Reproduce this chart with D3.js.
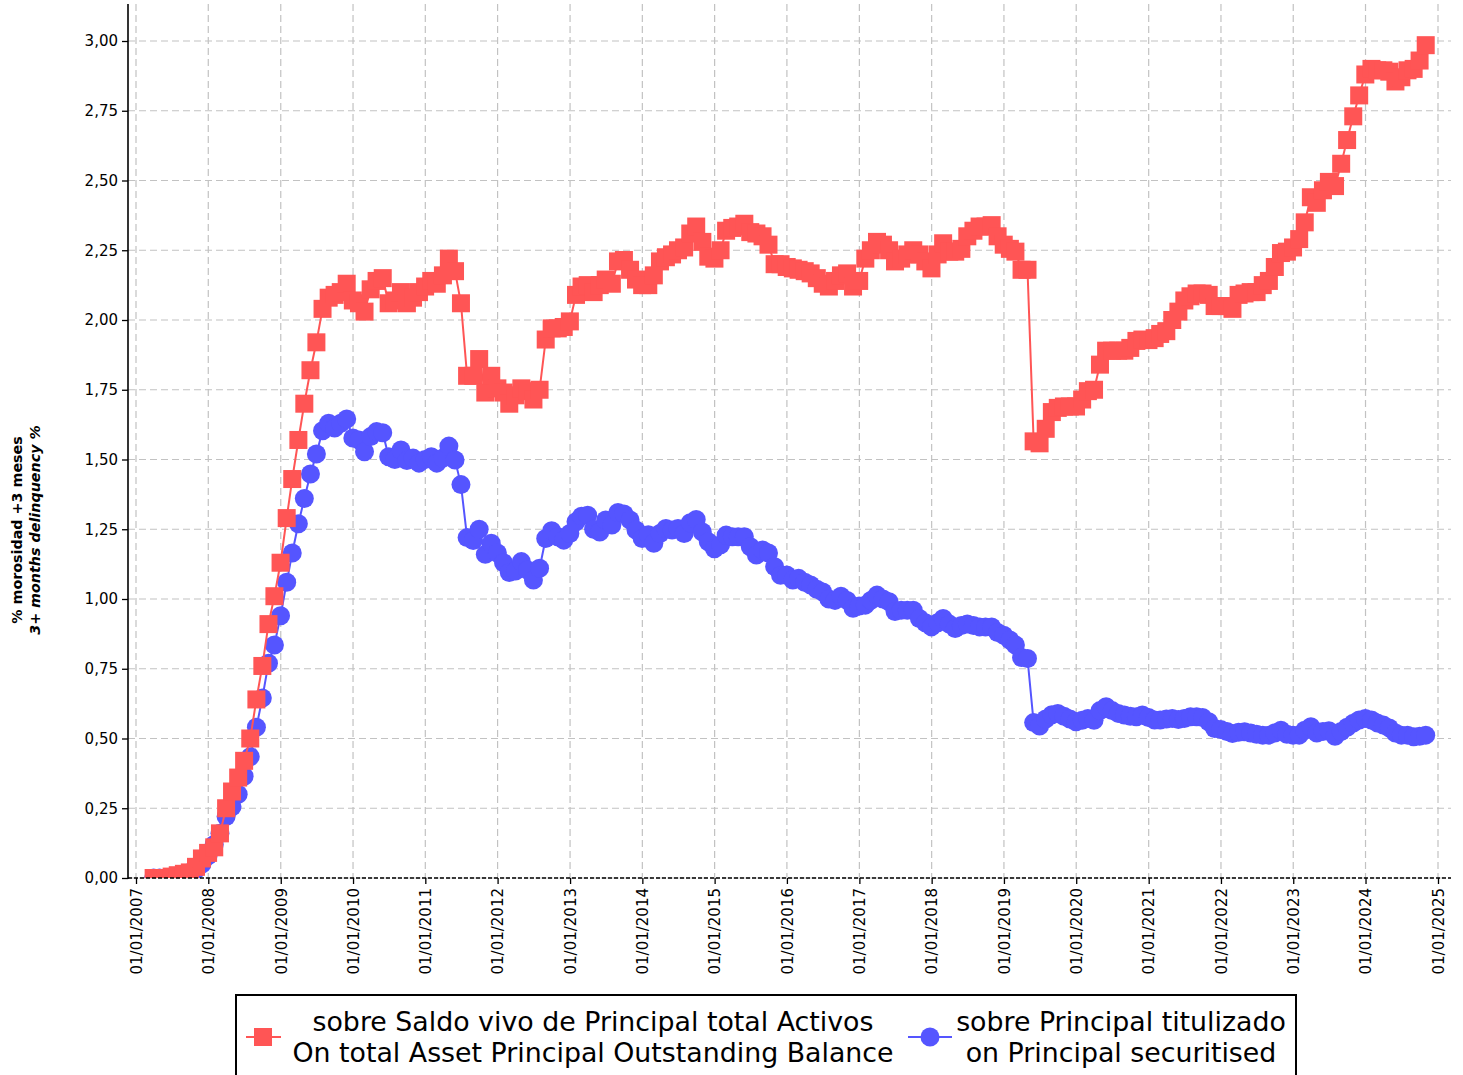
<!DOCTYPE html>
<html>
<head>
<meta charset="utf-8">
<script src="https://cdn.jsdelivr.net/npm/d3@7"></script>
<style>
  body { margin: 0; background: #fff; }
  svg { display: block; font-family: "DejaVu Sans", sans-serif; }
</style>
</head>
<body>
<svg id="chart" width="1463" height="1075"></svg>
<script>
// ---- DATA (monthly, month-end, from March 2007 to October 2024) ----
const startYear = 2007, startMonth = 3; // first observation: March 2007
const seriesNames = [
  ["sobre Saldo vivo de Principal total Activos", "On total Asset Principal Outstanding Balance"],
  ["sobre Principal titulizado", "on Principal securitised"]
];
const redValues = [
  // 2007 (Mar-Dec)
  0.00, 0.00, 0.00, 0.005, 0.01, 0.015, 0.02, 0.04, 0.07, 0.09,
  // 2008
  0.11, 0.16, 0.25, 0.31, 0.36, 0.42, 0.50, 0.64, 0.76, 0.91, 1.01, 1.13,
  // 2009
  1.29, 1.43, 1.57, 1.70, 1.82, 1.92, 2.04, 2.08, 2.09, 2.10, 2.13, 2.07,
  // 2010
  2.06, 2.03, 2.11, 2.14, 2.15, 2.06, 2.07, 2.10, 2.06, 2.08, 2.10, 2.12,
  // 2011
  2.14, 2.13, 2.16, 2.22, 2.175, 2.06, 1.80, 1.80, 1.86, 1.74, 1.80, 1.755,
  // 2012
  1.74, 1.70, 1.73, 1.755, 1.745, 1.715, 1.75, 1.93, 1.97, 1.97, 1.975, 1.995,
  // 2013
  2.09, 2.12, 2.125, 2.10, 2.125, 2.145, 2.13, 2.21, 2.215, 2.18, 2.145, 2.125,
  // 2014
  2.125, 2.16, 2.21, 2.225, 2.235, 2.25, 2.26, 2.31, 2.335, 2.28, 2.227, 2.22,
  // 2015
  2.25, 2.32, 2.33, 2.335, 2.345, 2.315, 2.31, 2.30, 2.27, 2.20, 2.20, 2.19,
  // 2016
  2.185, 2.18, 2.175, 2.167, 2.15, 2.13, 2.12, 2.14, 2.16, 2.167, 2.12, 2.14,
  // 2017
  2.22, 2.25, 2.28, 2.27, 2.25, 2.21, 2.22, 2.235, 2.25, 2.235, 2.21, 2.185,
  // 2018
  2.235, 2.275, 2.245, 2.245, 2.255, 2.30, 2.32, 2.335, 2.335, 2.34, 2.30, 2.27,
  // 2019
  2.255, 2.245, 2.18, 2.18, 1.565, 1.558, 1.61, 1.67, 1.685, 1.69, 1.69, 1.69,
  // 2020
  1.715, 1.745, 1.75, 1.84, 1.89, 1.89, 1.89, 1.89, 1.90, 1.925, 1.93, 1.928,
  // 2021
  1.935, 1.95, 1.96, 2.00, 2.03, 2.07, 2.085, 2.095, 2.095, 2.09, 2.05, 2.05,
  // 2022
  2.05, 2.04, 2.09, 2.095, 2.10, 2.10, 2.125, 2.14, 2.19, 2.24, 2.245, 2.26,
  // 2023
  2.29, 2.35, 2.44, 2.42, 2.465, 2.495, 2.48, 2.56, 2.645, 2.73, 2.805, 2.88,
  // 2024 (Jan-Oct)
  2.90, 2.895, 2.895, 2.89, 2.855, 2.87, 2.895, 2.90, 2.93, 2.985
];
const blueValues = [
  // 2007 (Mar-Dec)
  0.00, 0.00, 0.00, 0.00, 0.005, 0.01, 0.02, 0.03, 0.05, 0.08,
  // 2008
  0.12, 0.16, 0.22, 0.255, 0.30, 0.365, 0.435, 0.54, 0.645, 0.77, 0.835, 0.94,
  // 2009
  1.06, 1.165, 1.27, 1.36, 1.448, 1.52, 1.603, 1.63, 1.613, 1.63, 1.645, 1.577,
  // 2010
  1.57, 1.528, 1.582, 1.60, 1.596, 1.51, 1.50, 1.534, 1.496, 1.505, 1.487, 1.50,
  // 2011
  1.51, 1.487, 1.505, 1.548, 1.498, 1.41, 1.22, 1.21, 1.25, 1.16, 1.20, 1.165,
  // 2012
  1.13, 1.095, 1.10, 1.134, 1.104, 1.068, 1.11, 1.217, 1.245, 1.223, 1.211, 1.235,
  // 2013
  1.277, 1.297, 1.30, 1.25, 1.24, 1.283, 1.265, 1.31, 1.305, 1.283, 1.247, 1.217,
  // 2014
  1.23, 1.20, 1.235, 1.253, 1.247, 1.253, 1.235, 1.273, 1.285, 1.24, 1.205, 1.18,
  // 2015
  1.194, 1.229, 1.223, 1.223, 1.223, 1.187, 1.158, 1.176, 1.165, 1.116, 1.085, 1.086,
  // 2016
  1.068, 1.074, 1.06, 1.05, 1.035, 1.025, 1.00, 0.995, 1.01, 0.995, 0.967, 0.975,
  // 2017
  0.978, 0.995, 1.014, 1.00, 0.99, 0.955, 0.96, 0.96, 0.96, 0.93, 0.915, 0.90,
  // 2018
  0.915, 0.93, 0.91, 0.894, 0.905, 0.91, 0.905, 0.90, 0.90, 0.90, 0.88, 0.87,
  // 2019
  0.853, 0.835, 0.79, 0.787, 0.557, 0.545, 0.57, 0.585, 0.59, 0.58, 0.57, 0.56,
  // 2020
  0.565, 0.572, 0.565, 0.60, 0.614, 0.60, 0.59, 0.584, 0.58, 0.578, 0.584, 0.575,
  // 2021
  0.566, 0.566, 0.57, 0.572, 0.568, 0.572, 0.578, 0.578, 0.575, 0.56, 0.536, 0.532,
  // 2022
  0.525, 0.518, 0.522, 0.524, 0.52, 0.515, 0.512, 0.512, 0.52, 0.53, 0.515, 0.512,
  // 2023
  0.512, 0.53, 0.542, 0.52, 0.525, 0.528, 0.508, 0.525, 0.54, 0.555, 0.566, 0.572,
  // 2024 (Jan-Oct)
  0.566, 0.556, 0.548, 0.538, 0.52, 0.512, 0.512, 0.506, 0.508, 0.512
];
const yTicks = [0, 0.25, 0.5, 0.75, 1.0, 1.25, 1.5, 1.75, 2.0, 2.25, 2.5, 2.75, 3.0];
const xTickYears = d3.range(2007, 2026);
const yLabelLines = ["% morosidad +3 meses", "3+ months delinquency %"];

// ---- LAYOUT ----
const svg = d3.select("#chart");
const plot = { left: 128, right: 1451, top: 4, bottom: 878 };
const x = d3.scaleTime()
  .domain([new Date(2007, 0, 1), new Date(2025, 0, 1)])
  .range([136, 1438]);
const y = d3.scaleLinear().domain([0, 3]).range([878, 41]);

// month-end dates for each observation
const dates = redValues.map((_, i) => new Date(startYear, startMonth + i, 0));
const redData = redValues.map((v, i) => ({ d: dates[i], v }));
const blueData = blueValues.map((v, i) => ({ d: dates[i], v }));

const gridColor = "#c2c2c2";

// grid
const grid = svg.append("g");
grid.selectAll("line.h").data(yTicks).enter().append("line")
  .attr("x1", plot.left).attr("x2", plot.right)
  .attr("y1", d => y(d)).attr("y2", d => y(d))
  .attr("stroke", gridColor).attr("stroke-width", 1.2).attr("stroke-dasharray", "7,4");
grid.selectAll("line.v").data(xTickYears).enter().append("line")
  .attr("x1", d => x(new Date(d, 0, 1))).attr("x2", d => x(new Date(d, 0, 1)))
  .attr("y1", plot.top).attr("y2", plot.bottom)
  .attr("stroke", gridColor).attr("stroke-width", 1.2).attr("stroke-dasharray", "7,4");

// clip
svg.append("defs").append("clipPath").attr("id", "clip")
  .append("rect").attr("x", plot.left).attr("y", plot.top)
  .attr("width", plot.right - plot.left).attr("height", plot.bottom - plot.top);

const red = "#ff5555", blue = "#5555ff";
const series = svg.append("g").attr("clip-path", "url(#clip)");
const line = d3.line().x(d => x(d.d)).y(d => y(d.v));

// blue series
series.append("path").datum(blueData).attr("d", line)
  .attr("fill", "none").attr("stroke", blue).attr("stroke-width", 2);
series.selectAll("circle.b").data(blueData).enter().append("circle")
  .attr("cx", d => x(d.d)).attr("cy", d => y(d.v)).attr("r", 9.5).attr("fill", blue);

// red series
const sq = 18;
series.append("path").datum(redData).attr("d", line)
  .attr("fill", "none").attr("stroke", red).attr("stroke-width", 2);
series.selectAll("rect.r").data(redData).enter().append("rect")
  .attr("x", d => x(d.d) - sq / 2).attr("y", d => y(d.v) - sq / 2)
  .attr("width", sq).attr("height", sq).attr("fill", red);

// y axis
const yAxis = d3.axisLeft(y).tickValues(yTicks).tickSize(6).tickPadding(4)
  .tickFormat(d => d3.format(".2f")(d).replace(".", ","));
const gy = svg.append("g").attr("transform", `translate(${plot.left},0)`).call(yAxis);
gy.select(".domain").remove();
gy.selectAll("text").attr("font-size", 15).attr("fill", "#000").attr("font-family", "DejaVu Sans");
gy.selectAll("line").attr("stroke", "#000").attr("stroke-width", 1.3);
svg.append("line").attr("x1", plot.left).attr("x2", plot.left)
  .attr("y1", plot.top).attr("y2", plot.bottom + 1)
  .attr("stroke", "#000").attr("stroke-width", 1.6);

// x axis
const xAxis = d3.axisBottom(x).tickValues(xTickYears.map(yr => new Date(yr, 0, 1)))
  .tickSize(6).tickFormat(d3.timeFormat("%d/%m/%Y"));
const gx = svg.append("g").attr("transform", `translate(0,${plot.bottom})`).call(xAxis);
gx.select(".domain").remove();
gx.selectAll("line").attr("stroke", "#000").attr("stroke-width", 1.3);
gx.selectAll("text")
  .attr("font-size", 15).attr("fill", "#000").attr("font-family", "DejaVu Sans")
  .attr("text-anchor", "end")
  .attr("transform", "translate(0,1) rotate(-90)")
  .attr("x", -9).attr("y", 0).attr("dy", "0.35em");
svg.append("line").attr("x1", plot.left).attr("x2", plot.right)
  .attr("y1", plot.bottom).attr("y2", plot.bottom)
  .attr("stroke", "#000").attr("stroke-width", 1.5).attr("stroke-dasharray", "4,2");

// y label
const yl = svg.append("text").attr("transform", "translate(0,530) rotate(-90)")
  .attr("text-anchor", "middle").attr("font-size", 14.3).attr("font-weight", "bold")
  .attr("font-family", "DejaVu Sans");
yl.append("tspan").attr("x", 0).attr("y", 22).text(yLabelLines[0]);
yl.append("tspan").attr("x", 0).attr("y", 40).attr("font-style", "italic").text(yLabelLines[1]);

// legend
const lg = svg.append("g");
lg.append("rect").attr("x", 236).attr("y", 995).attr("width", 1060).attr("height", 100)
  .attr("fill", "#fff").attr("stroke", "#000").attr("stroke-width", 2);
const legendItems = [
  { color: red, shape: "square", mx: 263, x1: 246, x2: 281, tx: 593, names: seriesNames[0] },
  { color: blue, shape: "circle", mx: 930, x1: 908, x2: 952, tx: 1121, names: seriesNames[1] }
];
legendItems.forEach(it => {
  const my = 1037;
  lg.append("line").attr("x1", it.x1).attr("x2", it.x2).attr("y1", my).attr("y2", my)
    .attr("stroke", it.color).attr("stroke-width", 2);
  if (it.shape === "square") {
    lg.append("rect").attr("x", it.mx - sq / 2).attr("y", my - sq / 2)
      .attr("width", sq).attr("height", sq).attr("fill", it.color);
  } else {
    lg.append("circle").attr("cx", it.mx).attr("cy", my).attr("r", 9.5).attr("fill", it.color);
  }
  const t = lg.append("text").attr("text-anchor", "middle").attr("font-size", 26.8)
    .attr("font-family", "DejaVu Sans").attr("fill", "#000");
  t.append("tspan").attr("x", it.tx).attr("y", 1031).text(it.names[0]);
  t.append("tspan").attr("x", it.tx).attr("y", 1062).text(it.names[1]);
});
</script>
</body>
</html>
